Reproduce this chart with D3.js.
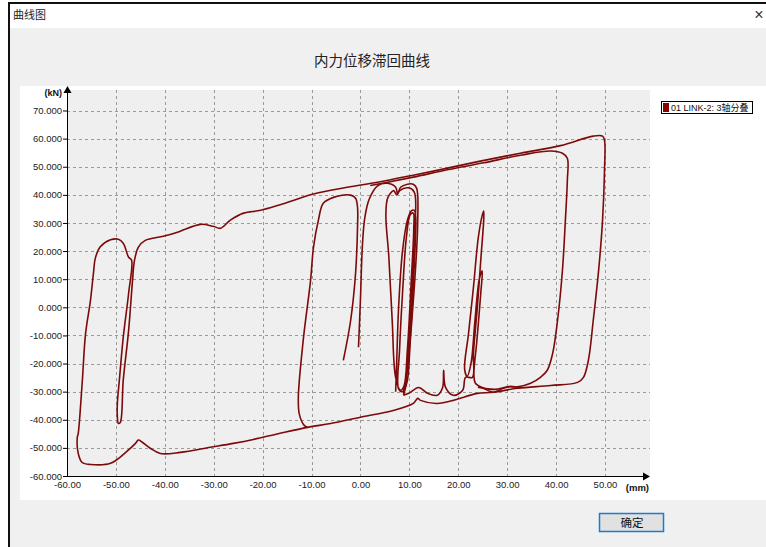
<!DOCTYPE html>
<html>
<head>
<meta charset="utf-8">
<script src="https://cdn.jsdelivr.net/npm/d3@7"></script>
<style>
  body { margin: 0; background: #fff; font-family: "Liberation Sans", Arial, sans-serif; }
  svg { display: block; }
</style>
</head>
<body>
<div id="chart"></div>
<script>
// axis ticks
const xTicks = [-60, -50, -40, -30, -20, -10, 0, 10, 20, 30, 40, 50];
const yTicks = [-60, -50, -40, -30, -20, -10, 0, 10, 20, 30, 40, 50, 60, 70];

const chartTitle = "内力位移滞回曲线";
const seriesName = "01 LINK-2: 3轴分叠";

// curve branches, [displacement mm, force kN]
const bigLoop = [
  [21.1, -32], [15.7, -34.2], [12.3, -33.1], [11.7, -32.4], [10.8, -34.2], [6.7, -36.7],
  [0, -39.1], [-6.1, -41.3], [-10.8, -42.7], [-16.4, -44.8], [-21.9, -47], [-26, -48.4],
  [-30.7, -49.8], [-36.8, -51.6], [-40.9, -52], [-42.9, -50.2], [-44.6, -48], [-45.4, -47.2],
  [-46, -48.4], [-47.6, -51], [-51.1, -55.5], [-55.2, -55.9], [-56.9, -55.2], [-57.7, -52],
  [-57.9, -46.3], [-57.7, -44.8], [-56.9, -27], [-56.2, -9.3], [-55.2, 2.5], [-54.6, 12],
  [-54.2, 17.5], [-53.2, 21.5], [-51.1, 24], [-49.5, 24.2], [-48.5, 22.8], [-47.4, 17.8],
  [-46.8, 16.8], [-47.4, 5], [-48.5, -10.7], [-49.3, -26], [-49.7, -34.2], [-49.7, -39],
  [-49.5, -41.3], [-49.1, -40.9], [-48.5, -26], [-47.4, -8.2], [-46.6, 9.6], [-46.2, 16.7],
  [-45.4, 21.4], [-44, 23.8], [-40.3, 25.3], [-37.4, 26.7], [-32.7, 29.5], [-30.1, 28.8],
  [-28.6, 28.1], [-26.6, 31], [-23.9, 33.5], [-20.4, 34.5], [-16.4, 36.5], [-9.6, 40.3],
  [-2.7, 42.7], [3.5, 44.5], [10.8, 47], [17.8, 49.5], [24.5, 52], [32.7, 54.8],
  [40.9, 57.5], [47.6, 60.9], [49.5, 60.9], [49.9, 59.4], [49.9, 48.8], [49.5, 31],
  [48.7, 13.2], [47.6, -4.6], [46.6, -18.9], [45.6, -24.9], [44.4, -26.7], [38.9, -27.8],
  [32.1, -28.8], [27.2, -30.2], [23.9, -30.6], [21.1, -32]
];

const loop40 = [
  [24, -28.4], [27.5, -29.2], [30.1, -28.3], [32.1, -28.3], [34.8, -27], [36.8, -24.9],
  [38.2, -22.4], [39.3, -16.4], [40.3, -4.6], [41.3, 13.2], [41.9, 31], [42.3, 45.2],
  [42.3, 53], [41.3, 54.8], [38.9, 55.6], [33, 54.2], [25.2, 51.4], [18, 49],
  [10.8, 46.3], [5, 44.3], [2, 43.3]
];

const loopR1 = [
  [-3.5, -18.9], [-2, -4.6], [-1, 12.1], [-0.6, 28.5], [-0.6, 35.6], [-1, 38.8],
  [-2, 39.9], [-5.5, 39.1], [-7.6, 37], [-8.6, 31], [-9.6, 21.4], [-10.2, 9.6],
  [-11.7, -11.7], [-12.7, -32], [-12.5, -38], [-11.5, -42], [-10.8, -42.7]
];

const loopR2 = [
  [-0.4, -14.2], [0, 3], [0.4, 22], [0.9, 32], [1.8, 38.5], [3.5, 43.2], [5.5, 44.1],
  [7.2, 42.7], [7.6, 40.2], [8.2, 42.7], [9.6, 43.8], [10.8, 43.8], [11.5, 42.3],
  [11.7, 29.9], [11.2, 12.1], [10.2, -11.7], [9.6, -26], [8.8, -30.6]
];

const cluster = [
  [7.2, -30], [7.4, -20], [7.8, 0], [8.6, 20], [9.6, 31], [10.4, 34.3], [11, 34.5],
  [11.3, 32], [11, 15], [10.2, -10], [9.4, -25], [8.6, -30], [7.8, -29],
  [8, -15], [8.6, 5], [9.4, 25], [10.2, 33], [10.8, 33.5], [10.9, 28], [10.4, 10],
  [9.6, -15], [8.9, -28], [8.2, -29.5], [7.2, -25], [6.5, -5], [5.8, 18], [5.2, 33],
  [5.6, 39], [6.8, 41.5], [7.4, 40], [8, 41.5], [9.8, 42.5], [11, 41], [11.2, 30],
  [10.6, 8], [9.8, -18], [9.2, -28], [8.8, -31.3]
];

const loop25 = [
  [8.8, -31.3], [10, -30.5], [11.9, -28.5], [13.7, -30.6], [15.7, -31.3], [16.8, -28.5],
  [17, -22.4], [17.4, -28.5], [19, -31.3], [20.9, -29.5], [21.5, -24.9], [22.9, -24.9],
  [23.1, -16.4], [23.9, 0], [24.7, 19.2], [25.2, 31], [25.2, 34.2], [24.9, 32.7],
  [24.1, 24.9], [23.1, 7.1], [22.1, -9.3], [21.3, -22], [21.8, -24.5], [22.6, -20],
  [23.4, -5], [24.3, 10], [24.9, 13], [24.6, 5], [23.8, -12], [23.2, -24], [23.5, -27],
  [25.2, -28.8], [27.2, -30.2], [29.2, -28.8], [30.7, -28.1], [32.7, -28.8]
];

const branches = [bigLoop, loop40, loopR1, loopR2, cluster, loop25];

const W = 766, H = 547;
const svg = d3.select("#chart").append("svg")
  .attr("width", W)
  .attr("height", H);

// window frame
svg.append("rect").attr("x", 0).attr("y", 0).attr("width", W).attr("height", H).attr("fill", "#fff");
svg.append("rect").attr("x", 10).attr("y", 28).attr("width", W - 10).attr("height", H - 28).attr("fill", "#f0f0f0");
svg.append("rect").attr("x", 8).attr("y", 2).attr("width", W - 8).attr("height", 2).attr("fill", "#111");
svg.append("rect").attr("x", 8).attr("y", 2).attr("width", 2).attr("height", H - 2).attr("fill", "#111");
svg.append("text").attr("x", 13).attr("y", 19)
  .attr("font-family", "Noto Sans CJK SC").attr("font-size", 11).attr("fill", "#222")
  .text("曲线图");
svg.append("text").attr("x", 759).attr("y", 20).attr("text-anchor", "middle")
  .attr("font-size", 16).attr("fill", "#333").text("×");

svg.append("text").attr("x", 372).attr("y", 66).attr("text-anchor", "middle")
  .attr("font-family", "Noto Sans CJK SC").attr("font-size", 14.5).attr("fill", "#222")
  .text(chartTitle);

// white chart panel
svg.append("rect").attr("x", 20).attr("y", 86).attr("width", W - 20).attr("height", 414).attr("fill", "#fff");

const x = d3.scaleLinear().domain([-60, 50]).range([67, 605]);
const y = d3.scaleLinear().domain([-60, 70]).range([476, 110.5]);

const plotRight = 650, plotTop = 90;
svg.append("rect").attr("x", x(-60)).attr("y", plotTop)
  .attr("width", plotRight - x(-60)).attr("height", y(-60) - plotTop).attr("fill", "#efefef");

// grid
const grid = svg.append("g").attr("stroke", "#9a9a9a").attr("stroke-dasharray", "3,3").attr("stroke-width", 1);
grid.selectAll("line.gx").data(xTicks.slice(1)).join("line")
  .attr("x1", d => Math.round(x(d)) + 0.5).attr("x2", d => Math.round(x(d)) + 0.5)
  .attr("y1", plotTop).attr("y2", y(-60));
grid.selectAll("line.gy").data(yTicks.slice(1)).join("line")
  .attr("y1", d => Math.round(y(d)) + 0.5).attr("y2", d => Math.round(y(d)) + 0.5)
  .attr("x1", x(-60)).attr("x2", plotRight);

// axes
const fmtY = d => d.toFixed(3);
const fmtX = d => d.toFixed(2);

const yAxis = svg.append("g").attr("transform", `translate(${x(-60)},0)`)
  .call(d3.axisLeft(y).tickValues(yTicks).tickFormat(fmtY).tickSize(4).tickPadding(1));
yAxis.select(".domain").remove();
const xAxis = svg.append("g").attr("transform", `translate(0,${y(-60)})`)
  .call(d3.axisBottom(x).tickValues(xTicks).tickFormat(fmtX).tickSize(0).tickPadding(5));
xAxis.select(".domain").remove();
svg.selectAll(".tick text")
  .attr("font-family", "Liberation Sans, Arial, sans-serif")
  .attr("font-size", 9.5).attr("fill", "#222");

svg.append("line").attr("x1", x(-60) + 0.5).attr("x2", x(-60) + 0.5)
  .attr("y1", y(-60)).attr("y2", 90).attr("stroke", "#000");
svg.append("path").attr("d", `M${x(-60) - 3.5},93 L${x(-60) + 0.5},86 L${x(-60) + 4.5},93 Z`).attr("fill", "#000");
svg.append("line").attr("x1", x(-60)).attr("x2", 646)
  .attr("y1", y(-60) + 0.5).attr("y2", y(-60) + 0.5).attr("stroke", "#000");
svg.append("path").attr("d", `M643,${y(-60) - 3.5} L650,${y(-60) + 0.5} L643,${y(-60) + 4.5} Z`).attr("fill", "#000");

svg.append("text").attr("x", 62).attr("y", 96).attr("text-anchor", "end")
  .attr("font-size", 9).attr("font-weight", "bold").attr("fill", "#111").text("(kN)");
svg.append("text").attr("x", 649).attr("y", 491).attr("text-anchor", "end")
  .attr("font-size", 9.5).attr("font-weight", "bold").attr("fill", "#111").text("(mm)");

// hysteresis curve
const line = d3.line()
  .x(d => x(d[0]))
  .y(d => y(d[1]))
  .curve(d3.curveCatmullRom.alpha(0.5));

svg.append("g").selectAll("path").data(branches).join("path")
  .attr("d", line)
  .attr("fill", "none")
  .attr("stroke", "#7d0a0a")
  .attr("stroke-width", 1.6)
  .attr("stroke-linejoin", "round");

// legend
const lg = svg.append("g").attr("transform", "translate(661,101)");
lg.append("rect").attr("x", 0.5).attr("y", 0.5).attr("width", 91).attr("height", 12)
  .attr("fill", "#fff").attr("stroke", "#000");
lg.append("rect").attr("x", 2).attr("y", 2).attr("width", 6).attr("height", 9).attr("fill", "#8b0000");
lg.append("text").attr("x", 10).attr("y", 10)
  .attr("font-family", "Liberation Sans, Noto Sans CJK SC, sans-serif")
  .attr("font-size", 9).attr("fill", "#111").text(seriesName);

// OK button
svg.append("rect").attr("x", 599.5).attr("y", 513.5).attr("width", 64).attr("height", 18)
  .attr("fill", "#e1e1e1").attr("stroke", "#1a7bd1").attr("stroke-width", 1.5);
svg.append("text").attr("x", 632).attr("y", 527).attr("text-anchor", "middle")
  .attr("font-family", "Noto Sans CJK SC").attr("font-size", 11.5).attr("fill", "#111").text("确定");
</script>
</body>
</html>
